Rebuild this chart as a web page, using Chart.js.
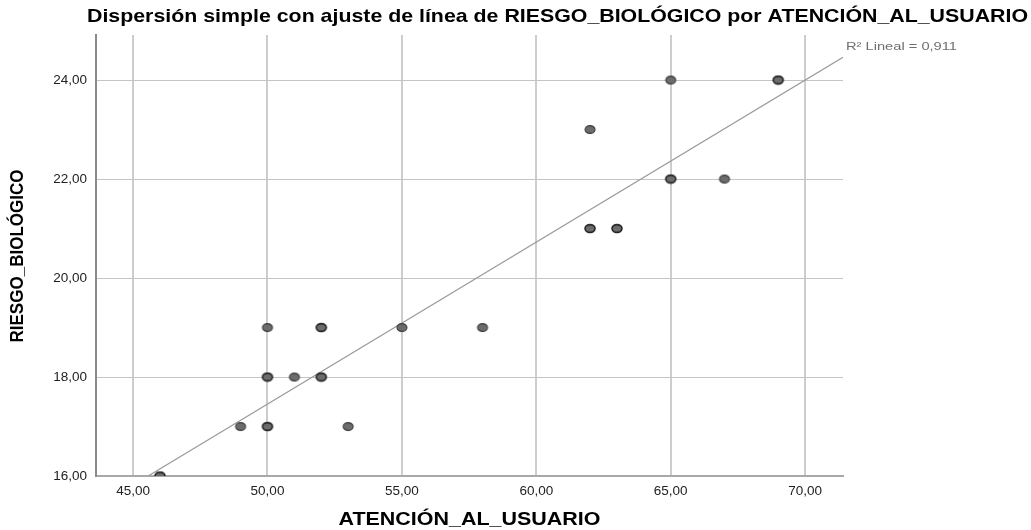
<!DOCTYPE html>
<html>
<head>
<meta charset="utf-8">
<script src="https://cdn.jsdelivr.net/npm/chart.js@4.4.1/dist/chart.umd.min.js"></script>
<style>
  html, body { margin: 0; padding: 0; background: #fff; }
  #wrap { width: 1031px; height: 530px; position: relative; }
</style>
</head>
<body>
<div id="wrap"><canvas id="c" width="1031" height="530"></canvas></div>
<script>
// ATENCIÓN_AL_USUARIO (x) and RIESGO_BIOLÓGICO (y), one entry per plotted point
const atencion = [46, 49, 50, 53, 50, 51, 52, 50, 52, 55, 58, 62, 63, 62, 65, 67, 65, 69];
const riesgo   = [16, 17, 17, 17, 18, 18, 18, 19, 19, 19, 19, 21, 21, 23, 22, 22, 24, 24];
// number of cases sharing each position (overlapping cases draw a heavier ring)
const casos    = [ 2,  1,  2,  1,  2,  1,  2,  1,  2,  1,  1,  2,  2,  1,  2,  1,  1,  2];

// linear fit line end points
const ajusteX = [45.56, 71.41];
const ajusteY = [16.00, 24.46];
const r2Lineal = '0,911';

const xTicks = [45, 50, 55, 60, 65, 70];
const yTicks = [16, 18, 20, 22, 24];

const tituloGrafico = 'Dispersión simple con ajuste de línea de RIESGO_BIOLÓGICO por ATENCIÓN_AL_USUARIO';
const tituloX = 'ATENCIÓN_AL_USUARIO';
const tituloY = 'RIESGO_BIOLÓGICO';

const FONT = '"Liberation Sans", Arial, sans-serif';
const fmt = v => v.toFixed(2).replace('.', ',');

// elliptical marker drawn once, reused as point style
function marcador(lineW, stroke) {
  const c = document.createElement('canvas');
  c.width = 14; c.height = 11;
  const g = c.getContext('2d');
  g.beginPath();
  g.ellipse(7, 5.5, 5, 3.9, 0, 0, Math.PI * 2);
  g.fillStyle = '#6c6c6c';
  g.fill();
  g.lineWidth = lineW;
  g.strokeStyle = stroke;
  g.stroke();
  return c;
}
const marcaSimple = marcador(1.1, '#383838');
const marcaDoble = marcador(1.6, '#222');

function textoAjustado(ctx, text, cx, cy, font, width, color, rot, align) {
  ctx.save();
  ctx.font = font;
  ctx.fillStyle = color;
  ctx.textAlign = align || 'center';
  ctx.textBaseline = 'middle';
  ctx.translate(cx, cy);
  if (rot) ctx.rotate(rot);
  if (width) {
    const w = ctx.measureText(text).width;
    ctx.scale(width / w, 1);
  }
  ctx.fillText(text, 0, 0);
  ctx.restore();
}

const textos = {
  id: 'textos',
  afterDraw(chart) {
    const ctx = chart.ctx;
    const a = chart.chartArea;
    textoAjustado(ctx, tituloGrafico, 557.5, 17, 'bold 19px ' + FONT, 941, '#000');
    textoAjustado(ctx, tituloX, (a.left + a.right) / 2, 520, 'bold 18.5px ' + FONT, 262, '#000');
    textoAjustado(ctx, tituloY, 18, 256, 'bold 19px ' + FONT, 173, '#000', -Math.PI / 2);
    textoAjustado(ctx, 'R² Lineal = ' + r2Lineal, a.right + 3, 47, '11px ' + FONT, 111, '#6e6e6e', 0, 'left');
  }
};

new Chart(document.getElementById('c'), {
  data: {
    datasets: [
      {
        type: 'line',
        data: ajusteX.map((x, i) => ({ x, y: ajusteY[i] })),
        borderColor: '#9a9a9a',
        borderWidth: 1.2,
        pointRadius: 0,
        fill: false,
        order: 2
      },
      {
        type: 'scatter',
        data: atencion.map((x, i) => ({ x, y: riesgo[i] })),
        pointStyle: ctx => (casos[ctx.dataIndex] > 1 ? marcaDoble : marcaSimple),
        pointRadius: 5,
        order: 1
      }
    ]
  },
  options: {
    responsive: false,
    animation: false,
    devicePixelRatio: 1,
    layout: { padding: { top: 35, right: 188, left: 0, bottom: 0 } },
    plugins: { legend: { display: false }, title: { display: false }, tooltip: { enabled: false } },
    scales: {
      x: {
        type: 'linear',
        min: 43.62,
        max: 71.41,
        afterBuildTicks: s => { s.ticks = xTicks.map(v => ({ value: v })); },
        afterFit: s => { s.height = 54; },
        grid: { color: '#cdcdcd', lineWidth: 2, drawTicks: false },
        border: { color: '#a8a8a8', width: 2 },
        ticks: {
          padding: 7,
          color: '#222',
          font: { family: FONT, size: 13.5 },
          callback: v => fmt(v)
        }
      },
      y: {
        type: 'linear',
        min: 16,
        max: 24.91,
        afterBuildTicks: s => { s.ticks = yTicks.map(v => ({ value: v })); },
        afterFit: s => { s.width = 96; },
        grid: { color: '#c4c4c4', lineWidth: 1, drawTicks: false },
        border: { color: '#8a8a8a', width: 2 },
        ticks: {
          padding: 9,
          color: '#222',
          font: { family: FONT, size: 13.5 },
          callback: v => fmt(v)
        }
      }
    }
  },
  plugins: [textos]
});
</script>
</body>
</html>
